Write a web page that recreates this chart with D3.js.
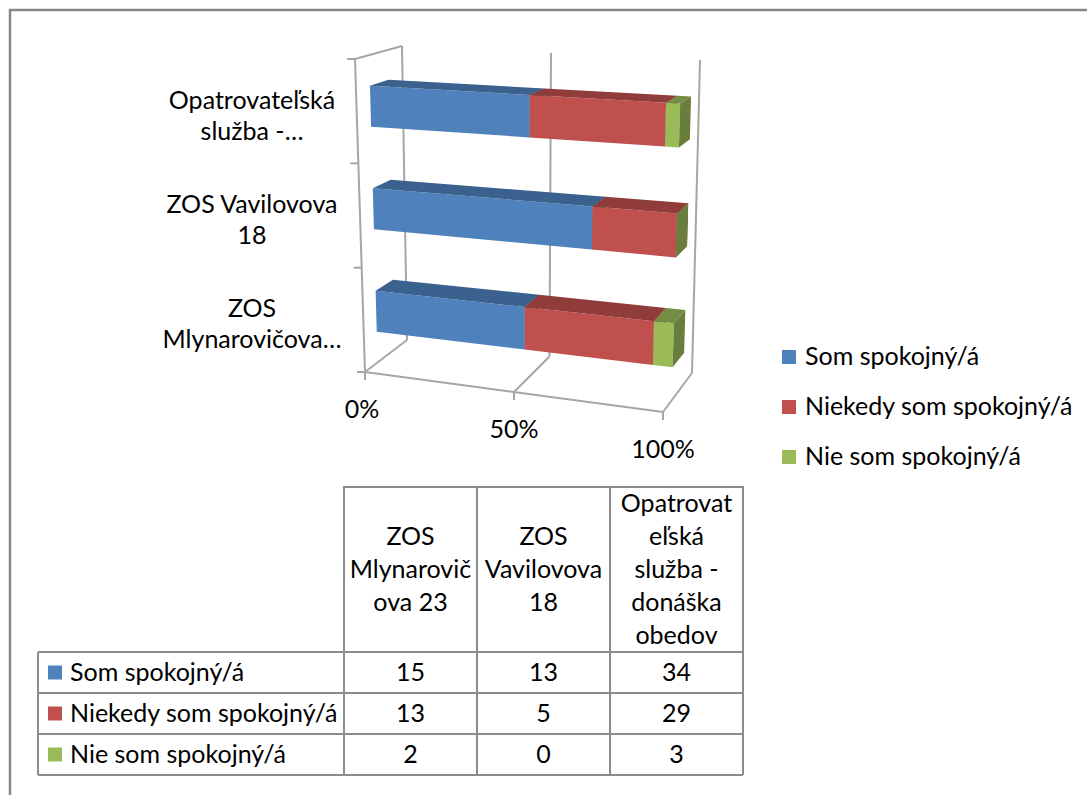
<!DOCTYPE html>
<html>
<head>
<meta charset="utf-8">
<script src="https://cdn.jsdelivr.net/npm/d3@7"></script>
<style>
  body { margin: 0; background: #fff; }
  svg { display: block; }
</style>
</head>
<body>
<svg id="chart" width="1087" height="795"></svg>
<script>
// data
const categories = ["ZOS Mlynarovičova 23", "ZOS Vavilovova 18", "Opatrovateľská služba - donáška obedov"];
const series = ["Som spokojný/á", "Niekedy som spokojný/á", "Nie som spokojný/á"];
const somSpokojny = [15, 13, 34];
const niekedySpokojny = [13, 5, 29];
const nieSpokojny = [2, 0, 3];
const colors = ["#4f81bd", "#c0504d", "#9bbb59"];
const axisLabelLines = [["ZOS", "Mlynarovičova…"], ["ZOS Vavilovova", "18"], ["Opatrovateľská", "služba -…"]];
const headerLines = [["ZOS", "Mlynarovič", "ova 23"], ["ZOS", "Vavilovova", "18"], ["Opatrovat", "eľská", "služba -", "donáška", "obedov"]];
const xTicks = [0, 0.5, 1];

const FONT = "Lato, 'Open Sans', sans-serif";
const FS = 25;
const GRID = "#a6a6a6";

const svg = d3.select("#chart");

// outer frame
svg.append("path")
  .attr("d", "M10,795 L10,10 L1087,10")
  .attr("fill", "none").attr("stroke", "#868686").attr("stroke-width", 2.5);

// 3d box corners (front plane w=0, back plane w=1)
const box = {
  ftl: [355, 59], ftr: [673, 75], fbl: [365, 372], fbr: [663, 412],
  btl: [402, 46], btr: [700, 60], bbl: [407, 340], bbr: [692, 373]
};
const lerp = (a, b, t) => [a[0] + (b[0] - a[0]) * t, a[1] + (b[1] - a[1]) * t];
function P(u, v, w) {
  const f = lerp(lerp(box.ftl, box.ftr, u), lerp(box.fbl, box.fbr, u), v);
  const b = lerp(lerp(box.btl, box.btr, u), lerp(box.bbl, box.bbr, u), v);
  return lerp(f, b, w);
}
const line = d3.line();

const x = d3.scaleLinear().domain([0, 1]).range([0, 1]);
// bottom category first, like excel
const y = d3.scaleBand().domain(categories.slice().reverse()).range([0, 1])
  .paddingInner(0.6).paddingOuter(0.3);
const W0 = 0.3, W1 = 0.7;

const g = svg.append("g");

// back wall gridlines + floor lines
xTicks.forEach(t => {
  g.append("path").attr("d", line([P(x(t), 0, 1), P(x(t), 1, 1)]))
    .attr("stroke", GRID).attr("stroke-width", 2).attr("fill", "none");
  g.append("path").attr("d", line([P(x(t), 1, 0), P(x(t), 1, 1)]))
    .attr("stroke", GRID).attr("stroke-width", 2).attr("fill", "none");
  const p = P(x(t), 1, 0);
  g.append("path").attr("d", line([p, [p[0], p[1] + 8]]))
    .attr("stroke", GRID).attr("stroke-width", 2);
  g.append("text")
    .attr("x", p[0] - (t === 0 ? 3 : 0)).attr("y", p[1] + 46)
    .attr("text-anchor", "middle")
    .style("font-family", FONT).style("font-size", FS + "px")
    .text(d3.format(".0%")(t));
});
// front floor edge, left axis, left wall top
g.append("path").attr("d", line([P(0, 1, 0), P(1, 1, 0)]))
  .attr("stroke", GRID).attr("stroke-width", 2).attr("fill", "none");
g.append("path").attr("d", line([P(0, 0, 0), P(0, 1, 0)]))
  .attr("stroke", GRID).attr("stroke-width", 2).attr("fill", "none");
g.append("path").attr("d", line([P(0, 0, 0), P(0, 0, 1)]))
  .attr("stroke", GRID).attr("stroke-width", 2).attr("fill", "none");
[0, 1, 2, 3].forEach(i => {
  const p = P(0, i / 3, 0);
  g.append("path").attr("d", line([[p[0] - 8, p[1]], p]))
    .attr("stroke", GRID).attr("stroke-width", 2);
});

// category labels
categories.forEach((c, i) => {
  const p = P(0, y(c) + y.bandwidth() / 2, 0);
  const lines = axisLabelLines[i];
  lines.forEach((l, j) => {
    g.append("text")
      .attr("x", 252)
      .attr("y", p[1] + 5 + (j - (lines.length - 1) / 2) * 31 + 8)
      .attr("text-anchor", "middle")
      .style("font-family", FONT).style("font-size", FS + "px")
      .text(l);
  });
});

// stacked 100% bars
const rows = categories.map((c, i) => ({
  cat: c,
  [series[0]]: somSpokojny[i],
  [series[1]]: niekedySpokojny[i],
  [series[2]]: nieSpokojny[i]
}));
const stacked = d3.stack().keys(series).offset(d3.stackOffsetExpand)(rows);

const poly = pts => "M" + pts.map(p => p.join(",")).join("L") + "Z";

categories.forEach((c, ci) => {
  const vt = y(c), vb = y(c) + y.bandwidth();
  stacked.forEach((s, si) => {
    const d = s[ci];
    const u0 = x(d[0]), u1 = x(d[1]);
    const col = d3.color(colors[si]);
    const bar = g.append("g");
    bar.append("path")
      .attr("d", poly([P(u0, vt, W0), P(u1, vt, W0), P(u1, vb, W0), P(u0, vb, W0)]))
      .attr("fill", col);
    bar.append("path")
      .attr("d", poly([P(u0, vt, W0), P(u1, vt, W0), P(u1, vt, W1), P(u0, vt, W1)]))
      .attr("fill", col.darker(0.8));
    bar.append("path")
      .attr("d", poly([P(u1, vt, W0), P(u1, vt, W1), P(u1, vb, W1), P(u1, vb, W0)]))
      .attr("fill", col.darker(1.1));
  });
});

// legend
const leg = svg.append("g");
series.forEach((s, i) => {
  const cy = 357 + i * 50;
  leg.append("rect").attr("x", 782).attr("y", cy - 7).attr("width", 14).attr("height", 14)
    .attr("fill", colors[i]);
  leg.append("text").attr("x", 805).attr("y", cy + 8)
    .style("font-family", FONT).style("font-size", FS + "px")
    .text(s);
});

// data table
const tbl = svg.append("g");
const col = d3.scaleBand().domain(categories).range([344, 743]);
const row = d3.scaleBand().domain(series).range([652, 775]);
const TL = "#8c8c8c";
const hTop = 487, left = 38;

// header cells
tbl.append("path")
  .attr("d", `M${col.range()[0]},${row.range()[0]}V${hTop}H${col.range()[1]}V${row.range()[1]}`)
  .attr("fill", "none").attr("stroke", TL).attr("stroke-width", 2);
categories.forEach(c => {
  tbl.append("path").attr("d", `M${col(c) + col.bandwidth()},${hTop}V${row.range()[1]}`)
    .attr("stroke", TL).attr("stroke-width", 2);
});
tbl.append("path").attr("d", `M${col.range()[0]},${hTop}V${row.range()[1]}`)
  .attr("stroke", TL).attr("stroke-width", 2);
// row lines
series.concat([null]).forEach(s => {
  const yy = s ? row(s) : row.range()[1];
  tbl.append("path").attr("d", `M${left},${yy}H${col.range()[1]}`)
    .attr("stroke", TL).attr("stroke-width", 2);
});
tbl.append("path").attr("d", `M${left},${row.range()[0]}V${row.range()[1]}`)
  .attr("stroke", TL).attr("stroke-width", 2);

categories.forEach((c, i) => {
  const lines = headerLines[i];
  const cy = (hTop + row.range()[0]) / 2;
  lines.forEach((l, j) => {
    tbl.append("text")
      .attr("x", col(c) + col.bandwidth() / 2)
      .attr("y", cy + (j - (lines.length - 1) / 2) * 33 + 8)
      .attr("text-anchor", "middle")
      .style("font-family", FONT).style("font-size", FS + "px")
      .text(l);
  });
});

const values = [somSpokojny, niekedySpokojny, nieSpokojny];
series.forEach((s, si) => {
  const cy = row(s) + row.bandwidth() / 2;
  tbl.append("rect").attr("x", 48).attr("y", cy - 7).attr("width", 14).attr("height", 14)
    .attr("fill", colors[si]);
  tbl.append("text").attr("x", 70).attr("y", cy + 8)
    .style("font-family", FONT).style("font-size", FS + "px")
    .text(s);
  categories.forEach((c, ci) => {
    tbl.append("text")
      .attr("x", col(c) + col.bandwidth() / 2)
      .attr("y", cy + 8)
      .attr("text-anchor", "middle")
      .style("font-family", FONT).style("font-size", FS + "px")
      .text(values[si][ci]);
  });
});
</script>
</body>
</html>
